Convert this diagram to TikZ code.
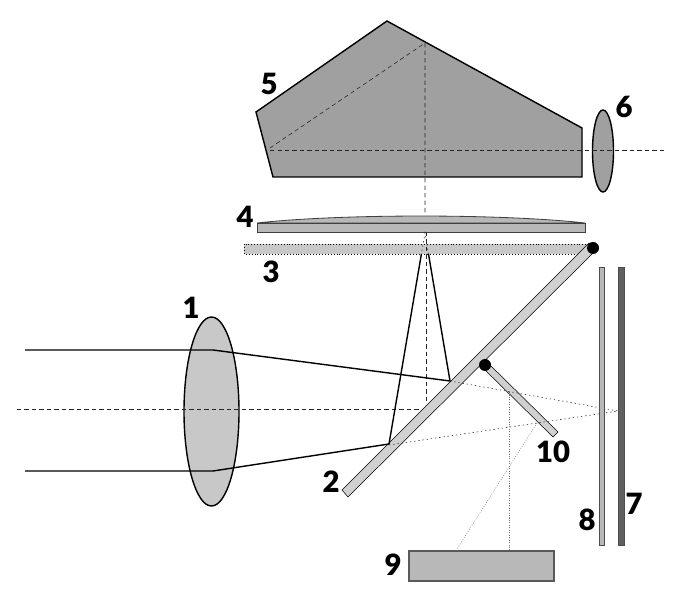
\documentclass[tikz,border=0pt]{standalone}
\usepackage{fontspec}
\setmainfont[BoldFont={Lato Black}]{Lato}
\definecolor{prismgray}{HTML}{A0A0A0}
\definecolor{lensgray}{HTML}{C8C8C8}
\definecolor{plategray}{HTML}{B8B8B8}
\definecolor{mirrorgray}{HTML}{D0D0D0}
\definecolor{filmgray}{HTML}{606060}
\tikzset{
  numlabel/.style={font=\bfseries\fontsize{25}{30}\selectfont,inner sep=0pt},
  beam/.style={line width=1.2pt,black},
  axisline/.style={line width=.5pt,dash pattern=on 3.6pt off 2.8pt,black!85},
  dotray/.style={line width=.5pt,dash pattern=on 1.2pt off 2.4pt,black!80},
  greyray/.style={line width=.35pt,dash pattern=on .9pt off 1.2pt,black!55},
  outline/.style={line width=1.2pt,black}
}
\begin{document}
\begin{tikzpicture}[x=.03cm,y=-.03cm]
\useasboundingbox (0,0) rectangle (690,600);
% prism and its lens
\draw[outline,fill=prismgray] (387,21) -- (582,128) -- (582,177) -- (273,177) -- (256,112) -- cycle;
\draw[outline,fill=prismgray] (603,151) ellipse [x radius=10.5,y radius=41];
\draw[axisline] (270,148) -- (425,43) -- (425,215);
\draw[axisline] (270,150.5) -- (664,150.5);
% focusing plates
\draw[line width=.7pt,black!75,fill=plategray] (257,223) .. controls (340,213.7) and (502,213.7) .. (585,223) -- cycle;
\draw[line width=.7pt,black!75,fill=plategray] (257,223) rectangle (585,232);
\draw[line width=.5pt,dotted,fill=lensgray] (244,244) rectangle (588,254);
% objective lens
\draw[outline,fill=lensgray] (211.5,411.5) ellipse [x radius=27.5,y radius=94.5];
\draw[axisline] (17,409) -- (422,409);
\draw[axisline] (426,232) -- (426,403);
% main mirror and small mirror
\draw[line width=.45pt,fill=mirrorgray] (342,490) -- (348,497) -- (596,250) -- (589,243) -- cycle;
\draw[line width=.45pt,fill=mirrorgray] (553,437) -- (558,432) -- (489,364) -- (484,369) -- cycle;
\fill[black] (593,248) circle (6);
\fill[black] (485,365) circle (6);
% rays
\draw[beam] (25,350) -- (213,350) -- (450,381) -- (428.5,254);
\draw[beam] (25,471) -- (213,471) -- (389,444) -- (421.4,254);
\draw[dotray] (428.5,254) -- (425,233) -- (421.4,254);
\draw[dotray] (450,381) -- (618,411) -- (389,445);
\draw[greyray] (509,392) -- (509,550);
\draw[greyray] (537,423) -- (457,549);
% film plane and viewer
\draw[line width=.7pt,black!70,fill=plategray] (599,267) rectangle (604,545);
\draw[line width=.7pt,black!70,fill=filmgray] (618,267) rectangle (624,545);
\draw[line width=.9pt,black!65,fill=plategray] (409,551) rectangle (554,581);
% numbers
\foreach \n/\x/\y in {1/191/308,2/331/482,3/271/272,4/245/217,5/269/84,6/624/107,7/634/504,8/587/520,9/393/565,10/553/452}{
  \node[numlabel] (num\n) at (\x,\y){\n};
}
\end{tikzpicture}
\end{document}
